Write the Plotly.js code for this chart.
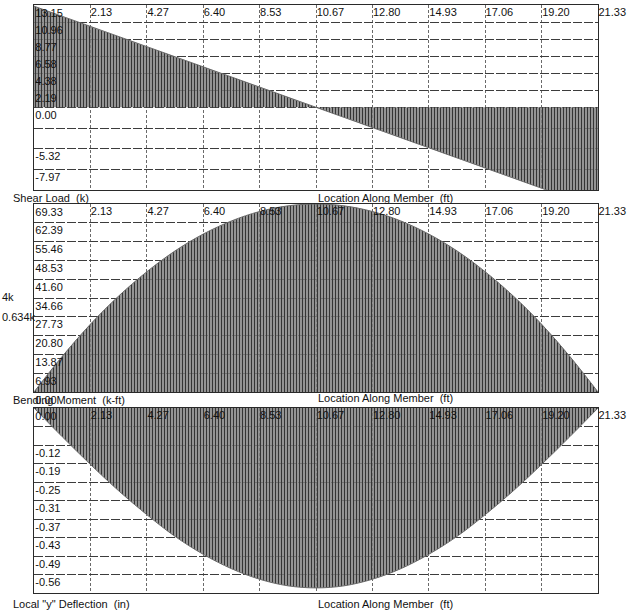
<!DOCTYPE html>
<html>
<head>
<meta charset="utf-8">
<script src="https://cdn.plot.ly/plotly-3.0.1.min.js"></script>
<style>
  html, body { margin: 0; padding: 0; background: #fff; }
  #chart { width: 642px; height: 612px; }
</style>
</head>
<body>
<div id="chart"></div>
<script>
// ---- data ----
const stations = [0, 1.07, 2.13, 3.20, 4.27, 5.33, 6.40, 7.47, 8.53, 9.60, 10.67,
                  11.73, 12.80, 13.87, 14.93, 16.00, 17.06, 18.13, 19.20, 20.26, 21.33];
const shearLoad = [13.0, 11.7, 10.4, 9.1, 7.8, 6.5, 5.2, 3.9, 2.6, 1.3, 0,
                   -1.3, -2.6, -3.9, -5.2, -6.5, -7.8, -9.1, -10.4, -11.7, -13.0];
const bendingMoment = [0, 13.17, 24.96, 35.36, 44.37, 52.00, 58.24, 63.09, 66.56, 68.64, 69.33,
                       68.64, 66.56, 63.09, 58.24, 52.00, 44.37, 35.36, 24.96, 13.17, 0];
const deflection = [0, -0.096, -0.188, -0.276, -0.356, -0.428, -0.488, -0.536, -0.571, -0.593, -0.600,
                    -0.593, -0.571, -0.536, -0.488, -0.428, -0.356, -0.276, -0.188, -0.096, 0];

// x tick labels (along member, ft)
const xTickVals = [2.13, 4.27, 6.40, 8.53, 10.67, 12.80, 14.93, 17.06, 19.20, 21.33];
const xTickText = ['2.13', '4.27', '6.40', '8.53', '10.67', '12.80', '14.93', '17.06', '19.20', '21.33'];
const xRange = [0, 21.33];

// shear axis
const shearTickVals = [13.15, 10.96, 8.77, 6.58, 4.38, 2.19, 0, -2.66, -5.32, -7.97];
const shearTickText = ['13.15', '10.96', '8.77', '6.58', '4.38', '2.19', '0.00', '', '-5.32', '-7.97'];
const shearRange = [-10.63, 13.15];

// moment axis
const momentTickVals = [0, 6.933, 13.866, 20.799, 27.732, 34.665, 41.598, 48.531, 55.464, 62.397, 69.33];
const momentTickText = ['0.00', '6.93', '13.87', '20.80', '27.73', '34.66', '41.60', '48.53', '55.46', '62.39', '69.33'];
const momentRange = [0, 69.33];

// deflection axis
const deflTickVals = [0, -0.0617, -0.1234, -0.1851, -0.2468, -0.3085, -0.3702, -0.4319, -0.4936, -0.5553];
const deflTickText = ['0.00', '', '-0.12', '-0.19', '-0.25', '-0.31', '-0.37', '-0.43', '-0.49', '-0.56'];
const deflRange = [-0.617, 0];

// titles / notes
const titles = {
  shear: 'Shear Load\u00a0\u00a0(k)',
  moment: 'Bending Moment\u00a0\u00a0(k-ft)',
  defl: 'Local "y" Deflection\u00a0\u00a0(in)',
  loc: 'Location Along Member\u00a0\u00a0(ft)'
};
const sideNotes = ['4k', '0.634k'];

// ---- styling ----
const FONT = 'Liberation Sans, Arial, sans-serif';
const pattern = { shape: '|', size: 3, solidity: 0.45, fgcolor: '#353535', bgcolor: 'rgba(145,145,145,0.8)' };

function trace(y, xa, ya, shape) {
  return {
    type: 'scatter', mode: 'lines', x: stations, y: y,
    xaxis: xa, yaxis: ya,
    line: { color: '#6a6a6a', width: 1, shape: shape },
    fill: 'tozeroy', fillpattern: pattern,
    hoverinfo: 'skip', showlegend: false
  };
}

const data = [
  trace(shearLoad, 'x', 'y', 'linear'),
  trace(bendingMoment, 'x2', 'y2', 'spline'),
  trace(deflection, 'x3', 'y3', 'spline')
];

function xAxis(anchor) {
  return {
    anchor: anchor, side: 'top', range: xRange,
    tickmode: 'array', tickvals: xTickVals, ticktext: xTickText,
    ticks: '', ticklabelposition: 'inside right', ticklabeloverflow: 'allow',
    showgrid: true, gridcolor: '#6a6a6a', gridwidth: 1, griddash: '3px,2px',
    zeroline: false, showline: true, mirror: true, linecolor: '#2a2a2a', linewidth: 1,
    layer: 'above traces',
    tickfont: { family: FONT, size: 11, color: '#111' }
  };
}
function yAxis(anchor, domain, range, vals, text) {
  return {
    anchor: anchor, domain: domain, range: range,
    tickmode: 'array', tickvals: vals, ticktext: text,
    ticks: '', ticklabelposition: 'inside bottom', ticklabeloverflow: 'allow',
    showgrid: true, gridcolor: '#3c3c3c', gridwidth: 1, griddash: '9px,2px',
    zeroline: false, showline: true, mirror: true, linecolor: '#2a2a2a', linewidth: 1,
    layer: 'above traces',
    tickfont: { family: FONT, size: 11, color: '#111' }
  };
}

// paper helpers: convert pixel positions of the picture
const L = 34, R = 44, T = 5, B = 19, W = 642, H = 612;
const px = v => (v - L) / (W - L - R);
const py = v => (H - B - v) / (H - T - B);

function note(text, xp, yp, anchor) {
  return { text: text, xref: 'paper', yref: 'paper', x: px(xp), y: py(yp),
           xanchor: anchor, yanchor: 'middle', showarrow: false,
           font: { family: FONT, size: 11, color: '#111' } };
}

const layout = {
  width: W, height: H,
  margin: { l: L, r: R, t: T, b: B },
  paper_bgcolor: '#fff', plot_bgcolor: '#fff',
  showlegend: false,
  xaxis: xAxis('y'),
  xaxis2: xAxis('y2'),
  xaxis3: xAxis('y3'),
  yaxis: yAxis('x', [py(190), py(5)], shearRange, shearTickVals, shearTickText),
  yaxis2: yAxis('x2', [py(392), py(204)], momentRange, momentTickVals, momentTickText),
  yaxis3: yAxis('x3', [py(593), py(408)], deflRange, deflTickVals, deflTickText),
  annotations: [
    note(titles.shear, 11, 198, 'left'),
    note(titles.loc, 316, 198, 'left'),
    note(titles.moment, 11, 400, 'left'),
    note(titles.loc, 316, 398, 'left'),
    note(titles.defl, 11, 604, 'left'),
    note(titles.loc, 316, 604, 'left'),
    note(sideNotes[0], 0, 297, 'left'),
    note(sideNotes[1], 0, 317, 'left')
  ]
};

Plotly.newPlot('chart', data, layout, { displayModeBar: false, staticPlot: true });
</script>
</body>
</html>
